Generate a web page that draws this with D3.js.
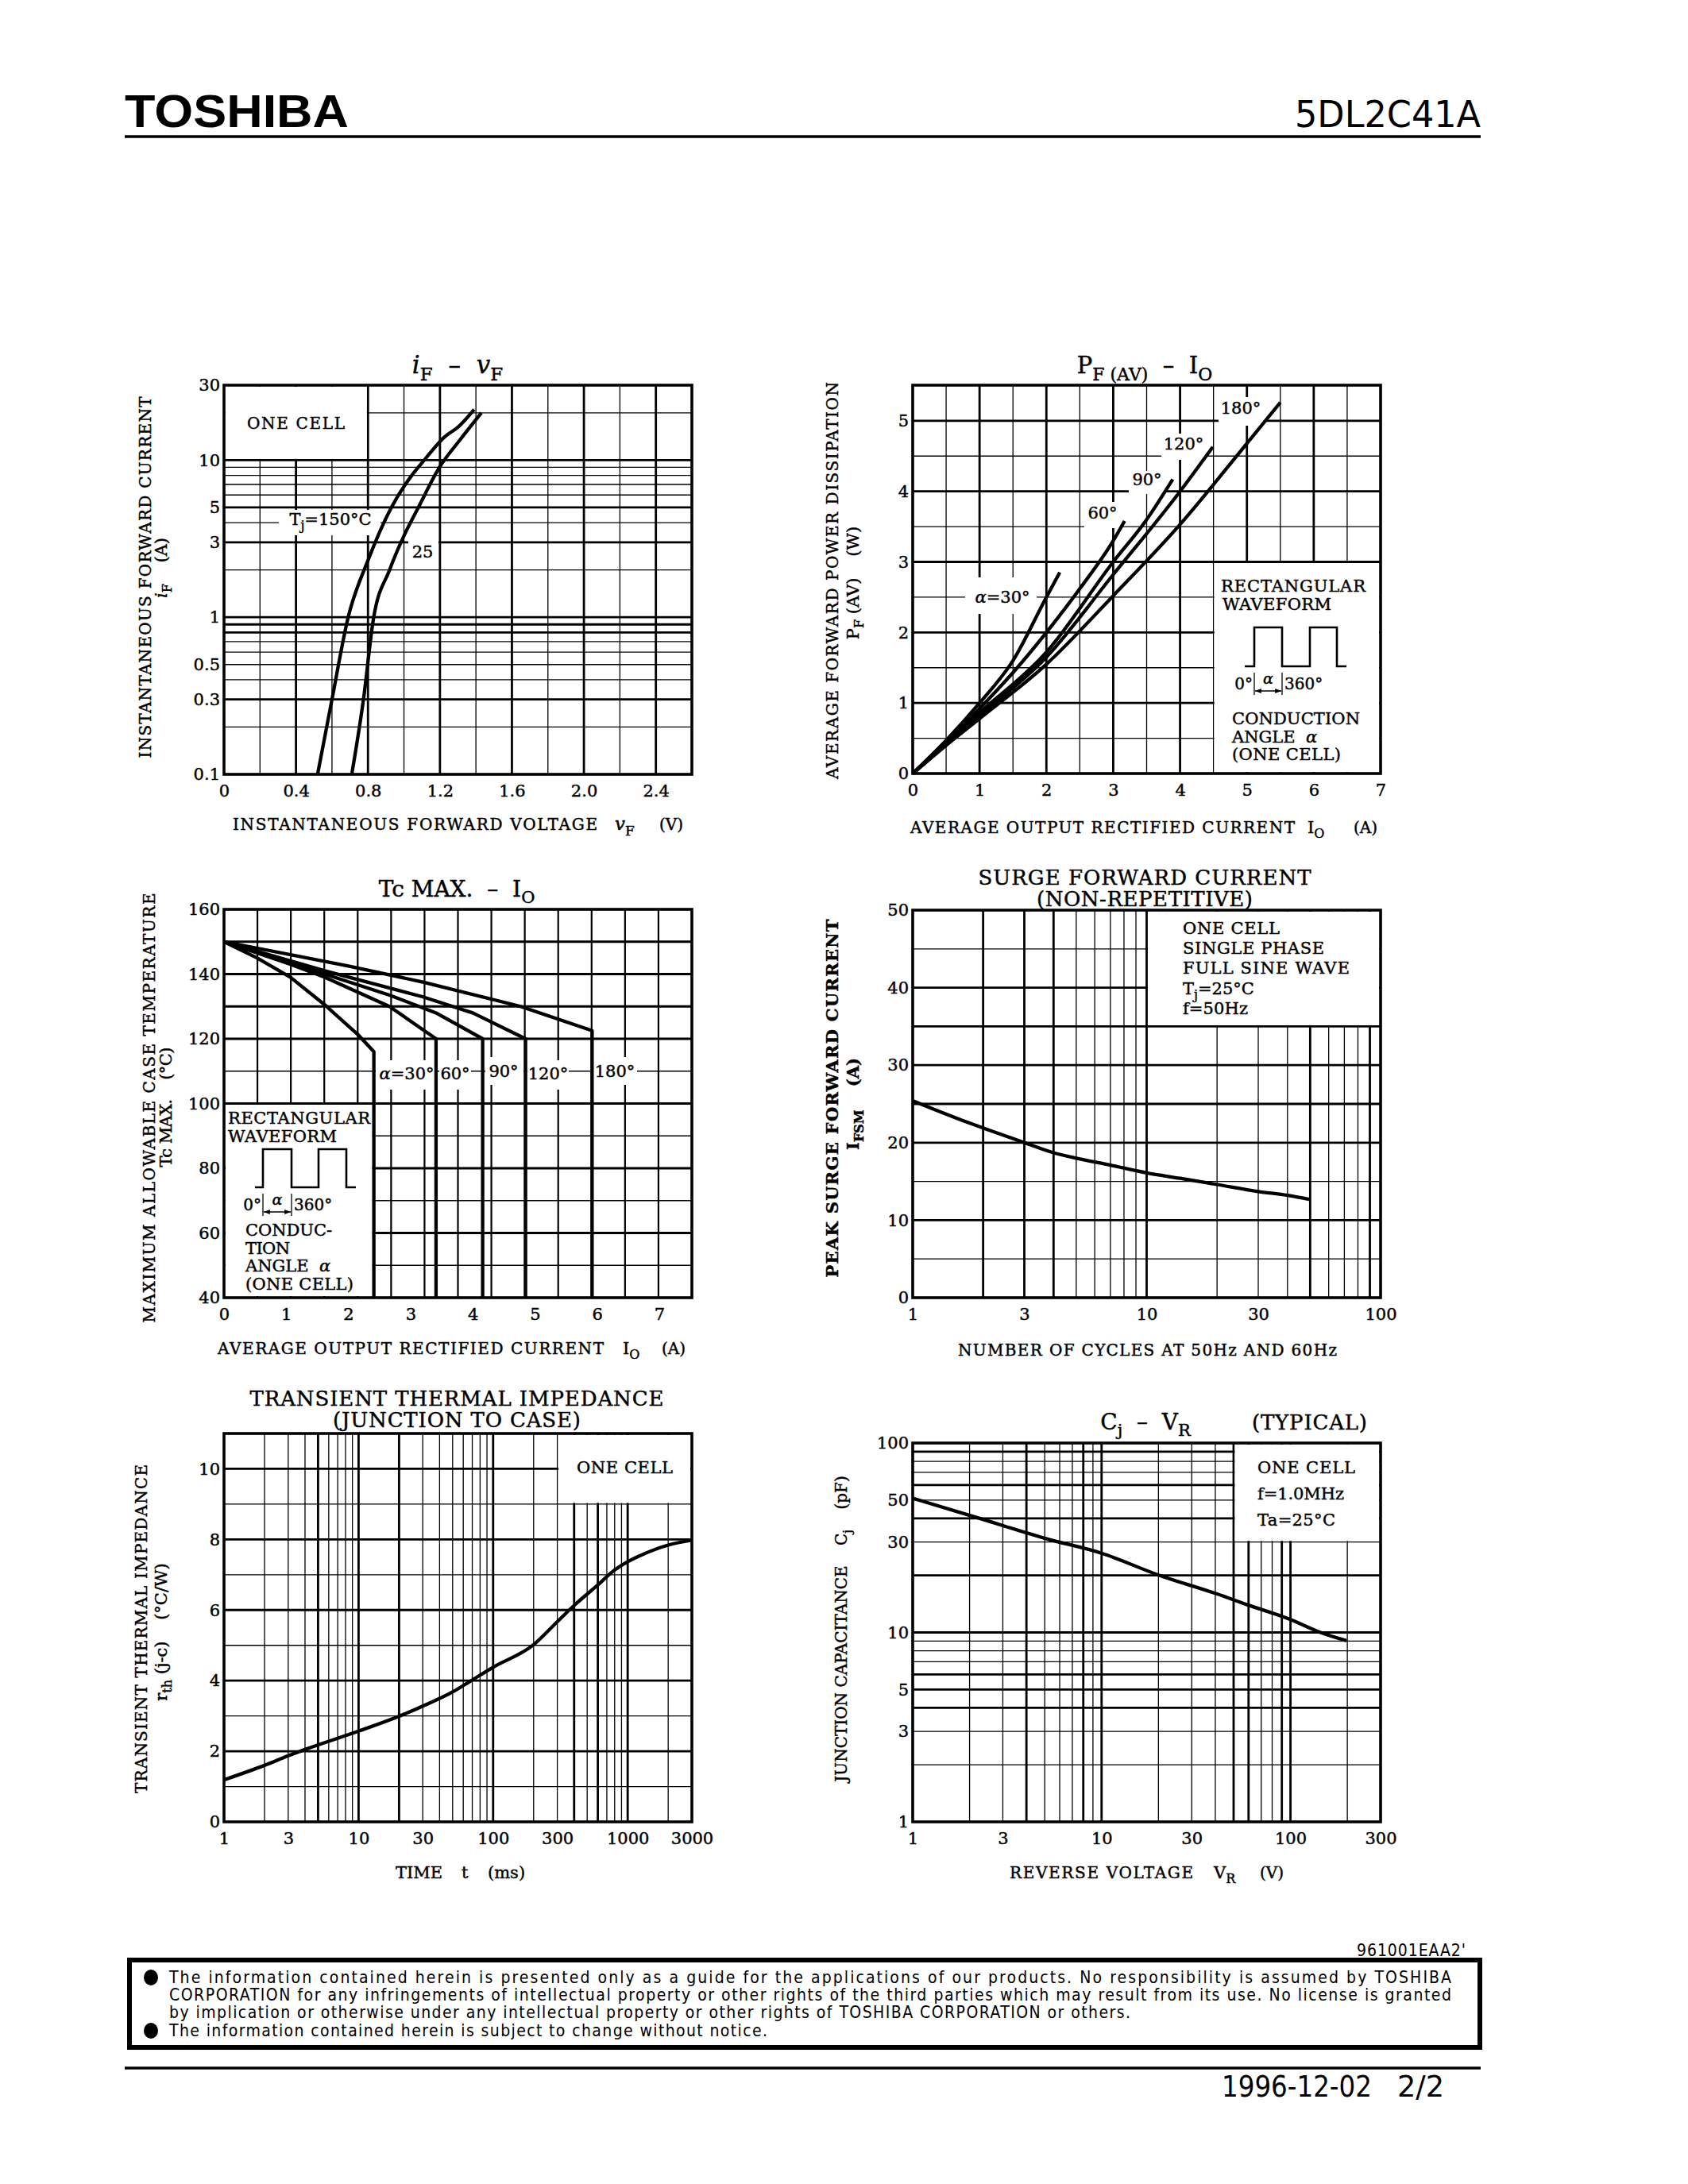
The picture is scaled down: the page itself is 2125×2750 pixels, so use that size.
<!DOCTYPE html>
<html>
<head>
<meta charset="utf-8">
<script src="https://cdn.jsdelivr.net/npm/d3@7"></script>
<style>
  body { margin: 0; background: #fff; }
  text { fill: #000; white-space: pre; }
  .chart text { stroke: #000; stroke-width: 0.45px; }
</style>
</head>
<body>
<svg id="page" width="2125" height="2750"></svg>
<script>
// ---- iF - vF ----
var vF150 = [0.52, 0.60, 0.69, 0.80, 0.93, 1.04, 1.10, 1.23, 1.30, 1.39]
var iF150 = [0.1, 0.3, 1.0, 2.3, 5, 7.9, 9.6, 14.2, 16.2, 21]
var vF25 = [0.71, 0.775, 0.83, 0.92, 1.0, 1.08, 1.20, 1.31, 1.43]
var iF25 = [0.1, 0.3, 0.97, 2.0, 3.3, 5, 9.1, 13.4, 20]
var vfTicks = [0, 0.4, 0.8, 1.2, 1.6, 2.0, 2.4]
var ifTicks = [0.1, 0.3, 0.5, 1, 3, 5, 10, 30]

// ---- PF(AV) - IO ----
var pfIo30 = [0, 0.5, 1, 1.5, 2, 2.2]
var pf30 = [0, 0.47, 1.0, 1.6, 2.5, 2.85]
var pfIo60 = [0, 0.5, 1, 1.5, 2, 2.5, 3, 3.17]
var pf60 = [0, 0.45, 0.92, 1.43, 2.0, 2.62, 3.3, 3.58]
var pfIo90 = [0, 0.5, 1, 2, 3, 3.5, 3.89]
var pf90 = [0, 0.43, 0.86, 1.72, 3.0, 3.6, 4.17]
var pfIo120 = [0, 1, 2, 3, 4, 4.49]
var pf120 = [0, 0.82, 1.65, 2.82, 4.0, 4.63]
var pfIo180 = [0, 0.5, 1, 2, 3, 4, 5, 5.5]
var pf180 = [0, 0.4, 0.78, 1.55, 2.52, 3.53, 4.68, 5.26]
var pfXTicks = [0, 1, 2, 3, 4, 5, 6, 7]
var pfYTicks = [0, 1, 2, 3, 4, 5]

// ---- Tc MAX - IO ----
var tcIo30 = [0, 0.53, 1.07, 1.62, 2.17, 2.41, 2.41]
var tc30 = [150, 145, 139, 130.5, 121, 116, 40]
var tcIo60 = [0, 1.07, 1.62, 2.66, 3.41, 3.41]
var tc60 = [150, 143, 139, 130, 120, 40]
var tcIo90 = [0, 1.62, 2.66, 3.41, 4.16, 4.16]
var tc90 = [150, 140, 133.5, 128, 120, 40]
var tcIo120 = [0, 1.62, 3.19, 4.0, 4.85, 4.85]
var tc120 = [150, 141, 133, 128, 120, 40]
var tcIo180 = [0, 2.0, 3.2, 4.77, 5.92, 5.92]
var tc180 = [150, 142.5, 137.5, 130, 122.5, 40]
var tcXTicks = [0, 1, 2, 3, 4, 5, 6, 7]
var tcYTicks = [40, 60, 80, 100, 120, 140, 160]

// ---- surge forward current ----
var cycles = [1, 1.62, 2, 3, 4, 5, 7, 10, 13.9, 20, 30, 40, 49.5]
var ifsm = [25.4, 22.9, 21.9, 20.0, 18.7, 18.0, 17.1, 16.1, 15.4, 14.6, 13.7, 13.2, 12.7]
var cyXTicks = [1, 3, 10, 30, 100]
var cyYTicks = [0, 10, 20, 30, 40, 50]

// ---- transient thermal impedance ----
var tms = [1, 2, 3, 4, 10, 20, 30, 50, 68, 100, 200, 300, 400, 584, 805, 1000, 1340, 2000, 3000]
var rth = [1.19, 1.60, 1.87, 2.05, 2.57, 2.99, 3.28, 3.68, 3.99, 4.38, 5.02, 5.67, 6.13, 6.67, 7.14, 7.37, 7.60, 7.84, 7.98]
var tXTicks = [1, 3, 10, 30, 100, 300, 1000, 3000]
var tYTicks = [0, 2, 4, 6, 8, 10]

// ---- Cj - VR ----
var vr = [1, 2.28, 5.12, 10, 20, 40.6, 59, 100, 144, 198]
var cj = [51.1, 39.9, 31.2, 26.2, 20.1, 16.0, 14.0, 11.7, 10, 9.05]
var vrXTicks = [1, 3, 10, 30, 100, 300]
var cjYTicks = [1, 3, 5, 10, 30, 50, 100]

var serif = '"DejaVu Serif", "Liberation Serif", serif'
var sans = '"DejaVu Sans Condensed", "Liberation Sans Narrow", "Noto Sans", sans-serif'

var svg = d3.select('#page')
svg.append('rect').attr('width', 2125).attr('height', 2750).attr('fill', '#fff')

var defs = svg.append('defs')
defs.append('marker').attr('id', 'ah').attr('viewBox', '0 0 10 10').attr('refX', 10).attr('refY', 5)
  .attr('markerWidth', 6).attr('markerHeight', 6).attr('orient', 'auto-start-reverse')
  .append('path').attr('d', 'M0,1 L10,5 L0,9 Z').attr('fill', '#000')

// text with optional italic / subscript parts
function txt(g, x, y, parts, o) {
  o = o || {}
  var size = o.size || 20
  var t = g.append('text').attr('x', x).attr('y', y)
    .attr('text-anchor', o.anchor || 'start')
    .style('font-family', o.font || serif)
    .style('font-size', size + 'px')
  if (o.weight) t.style('font-weight', o.weight)
  if (o.rot) t.attr('transform', 'rotate(-90,' + x + ',' + y + ')')
  if (o.len) t.attr('textLength', o.len).attr('lengthAdjust', o.adjust || 'spacing')
  if (typeof parts === 'string') parts = [parts]
  var shift = 0
  parts.forEach(function(p) {
    if (typeof p === 'string') p = {t: p}
    var ts = t.append('tspan').text(p.t)
    var want = p.sub ? Math.round(size * 0.3) : 0
    if (want !== shift) { ts.attr('dy', want - shift); shift = want }
    if (p.sub) ts.style('font-size', Math.round(size * 0.75) + 'px')
    if (p.it) ts.style('font-style', 'italic')
  })
  return t
}

function gridV(g, sx, sy, vals, bold, w1, w2) {
  var yr = sy.range()
  g.append('g').selectAll('line').data(vals).enter().append('line')
    .attr('x1', d => sx(d)).attr('x2', d => sx(d))
    .attr('y1', yr[0]).attr('y2', yr[1])
    .attr('stroke', '#000')
    .attr('stroke-width', d => bold.indexOf(d) >= 0 ? (w2 || 2.8) : (w1 || 1.3))
}
function gridH(g, sx, sy, vals, bold, w1, w2) {
  var xr = sx.range()
  g.append('g').selectAll('line').data(vals).enter().append('line')
    .attr('y1', d => sy(d)).attr('y2', d => sy(d))
    .attr('x1', xr[0]).attr('x2', xr[1])
    .attr('stroke', '#000')
    .attr('stroke-width', d => bold.indexOf(d) >= 0 ? (w2 || 2.8) : (w1 || 1.3))
}
function box(g, x, y, w, h) {
  g.append('rect').attr('x', x).attr('y', y).attr('width', w).attr('height', h).attr('fill', '#fff')
}
function frame(g, sx, sy) {
  var xr = sx.range(), yr = sy.range()
  g.append('rect').attr('x', xr[0]).attr('y', yr[1])
    .attr('width', xr[1] - xr[0]).attr('height', yr[0] - yr[1])
    .attr('fill', 'none').attr('stroke', '#000').attr('stroke-width', 3.6)
}
function curve(g, sx, sy, xs, ys, c) {
  var pts = xs.map((v, i) => [v, ys[i]])
  g.append('path').datum(pts)
    .attr('d', d3.line().x(d => sx(d[0])).y(d => sy(d[1])).curve(c || d3.curveMonotoneX))
    .attr('fill', 'none').attr('stroke', '#000').attr('stroke-width', 4.3)
    .attr('stroke-linejoin', 'round')
}
function axes(g, sx, sy, xt, yt, xf, yf) {
  var ax = g.append('g').attr('transform', 'translate(0,' + sy.range()[0] + ')')
    .call(d3.axisBottom(sx).tickValues(xt).tickSize(0).tickPadding(13).tickFormat(xf || (d => d)))
  var ay = g.append('g').attr('transform', 'translate(' + sx.range()[0] + ',0)')
    .call(d3.axisLeft(sy).tickValues(yt).tickSize(0).tickPadding(5).tickFormat(yf || (d => d)))
  ;[ax, ay].forEach(a => {
    a.select('.domain').remove()
    a.attr('font-family', null).attr('font-size', null)
    a.selectAll('text').style('font-family', serif).style('font-size', '21px').attr('fill', '#000')
  })
}
function wave(g, xs, lo, hi) {
  g.append('path')
    .attr('d', 'M' + xs[0] + ',' + lo + 'H' + xs[1] + 'V' + hi + 'H' + xs[2] + 'V' + lo +
      'H' + xs[3] + 'V' + hi + 'H' + xs[4] + 'V' + lo + 'H' + xs[5])
    .attr('fill', 'none').attr('stroke', '#000').attr('stroke-width', 2.6)
  var b = lo + 8
  g.append('line').attr('x1', xs[1]).attr('x2', xs[1]).attr('y1', b).attr('y2', b + 28).attr('stroke', '#000').attr('stroke-width', 1.3)
  g.append('line').attr('x1', xs[2]).attr('x2', xs[2]).attr('y1', b).attr('y2', b + 28).attr('stroke', '#000').attr('stroke-width', 1.3)
  g.append('line').attr('x1', xs[1] + 1).attr('x2', xs[2] - 1).attr('y1', b + 23).attr('y2', b + 23)
    .attr('stroke', '#000').attr('stroke-width', 1.3)
    .attr('marker-start', 'url(#ah)').attr('marker-end', 'url(#ah)')
  txt(g, xs[1] - 2, b + 21, '0°', {anchor: 'end', size: 20})
  txt(g, (xs[1] + xs[2]) / 2, b + 14, [{t: 'α', it: 1}], {anchor: 'middle', size: 19})
  txt(g, xs[2] + 3, b + 21, '360°', {size: 20})
}

// ---------------- header ----------------
txt(svg, 157, 160, 'TOSHIBA', {font: '"Liberation Sans", Arial, sans-serif', weight: 900, size: 58, len: 282, adjust: 'spacingAndGlyphs'})
txt(svg, 1864, 160, '5DL2C41A', {font: sans, size: 46, anchor: 'end', len: 234, adjust: 'spacingAndGlyphs'})
svg.append('line').attr('x1', 157).attr('x2', 1864).attr('y1', 172).attr('y2', 172).attr('stroke', '#000').attr('stroke-width', 3.5)

// ---------------- chart 1: iF - vF ----------------
var g1 = svg.append('g').attr('class', 'chart')
var x1 = d3.scaleLinear().domain([0, 2.6]).range([282, 871])
var y1 = d3.scaleLog().domain([0.1, 30]).range([975, 485])
gridV(g1, x1, y1, [0.2, 0.4, 0.6, 0.8, 1.0, 1.2, 1.4, 1.6, 1.8, 2.0, 2.2, 2.4], [0.4, 0.8, 1.2, 1.6, 2.0, 2.4])
gridH(g1, x1, y1, [0.2, 0.3, 0.4, 0.5, 0.6, 0.7, 0.8, 0.9, 1, 2, 3, 4, 5, 6, 7, 8, 9, 10, 20], [0.3, 0.8, 0.9, 1, 3, 5, 10])
box(g1, 284, 487, x1(0.8) - 285.5, y1(10) - 488.5)
box(g1, 351, 642, 128, 32)
box(g1, 514, 680, 38, 30)
curve(g1, x1, y1, vF150, iF150)
curve(g1, x1, y1, vF25, iF25)
frame(g1, x1, y1)
axes(g1, x1, y1, vfTicks, ifTicks, d => d === 0 ? '0' : d.toFixed(1))
txt(g1, 311, 540, 'ONE CELL', {len: 123})
txt(g1, 416, 661, ['T', {t: 'j', sub: 1}, '=150°C'], {anchor: 'middle', size: 21})
txt(g1, 532, 702, '25', {anchor: 'middle', size: 21})
txt(g1, 576, 470, [{t: 'i', it: 1}, {t: 'F', sub: 1}, '  –  ', {t: 'v', it: 1}, {t: 'F', sub: 1}], {anchor: 'middle', size: 31})
txt(g1, 190, 727, 'INSTANTANEOUS FORWARD CURRENT', {rot: 1, anchor: 'middle', len: 455})
txt(g1, 210, 715, [{t: 'i', it: 1}, {t: 'F', sub: 1}, '    (A)'], {rot: 1, anchor: 'middle', size: 21})
txt(g1, 293, 1045, 'INSTANTANEOUS FORWARD VOLTAGE', {len: 459})
txt(g1, 774, 1045, [{t: 'v', it: 1}, {t: 'F', sub: 1}], {size: 23})
txt(g1, 830, 1045, '(V)')

// ---------------- chart 2: PF(AV) - IO ----------------
var g2 = svg.append('g').attr('class', 'chart')
var x2 = d3.scaleLinear().domain([0, 7]).range([1149, 1738])
var y2 = d3.scaleLinear().domain([0, 5.505]).range([974, 485])
gridV(g2, x2, y2, [0.5, 1, 1.5, 2, 2.5, 3, 3.5, 4, 4.5, 5, 5.5, 6, 6.5], [1, 2, 3, 4, 5, 6])
gridH(g2, x2, y2, [0.5, 1, 1.5, 2, 2.5, 3, 3.5, 4, 4.5, 5], [1, 2, 3, 4, 5])
box(g2, x2(4.5) + 1, y2(3) + 1.5, 1738 - x2(4.5) - 3, 974 - y2(3) - 3.5)
box(g2, 1215, 727, 90, 46)
box(g2, 1365, 632, 46, 33)
box(g2, 1421, 593, 46, 29)
box(g2, 1462, 546, 56, 33)
box(g2, 1534, 500, 60, 36)
curve(g2, x2, y2, pfIo30, pf30)
curve(g2, x2, y2, pfIo60, pf60)
curve(g2, x2, y2, pfIo90, pf90)
curve(g2, x2, y2, pfIo120, pf120)
curve(g2, x2, y2, pfIo180, pf180)
frame(g2, x2, y2)
axes(g2, x2, y2, pfXTicks, pfYTicks)
txt(g2, 1262, 759, [{t: 'α', it: 1}, '=30°'], {anchor: 'middle', size: 21})
txt(g2, 1388, 653, '60°', {anchor: 'middle', size: 21})
txt(g2, 1444, 611, '90°', {anchor: 'middle', size: 21})
txt(g2, 1490, 566, '120°', {anchor: 'middle', size: 21})
txt(g2, 1562, 521, '180°', {anchor: 'middle', size: 21})
txt(g2, 1537, 745, 'RECTANGULAR', {len: 182, size: 21})
txt(g2, 1539, 768, 'WAVEFORM', {len: 137, size: 21})
wave(g2, [1567, 1579, 1614, 1649, 1683, 1695], 839, 790)
txt(g2, 1551, 912, 'CONDUCTION', {len: 161, size: 21})
txt(g2, 1551, 935, ['ANGLE  ', {t: 'α', it: 1}], {size: 21})
txt(g2, 1551, 957, '(ONE CELL)', {len: 137, size: 21})
txt(g2, 1441, 470, ['P', {t: 'F (AV)', sub: 1}, '  –  I', {t: 'O', sub: 1}], {anchor: 'middle', size: 29})
txt(g2, 1055, 731, 'AVERAGE FORWARD POWER DISSIPATION', {rot: 1, anchor: 'middle', len: 500})
txt(g2, 1081, 734, ['P', {t: 'F', sub: 1}, ' (AV)    (W)'], {rot: 1, anchor: 'middle', size: 21})
txt(g2, 1146, 1049, 'AVERAGE OUTPUT RECTIFIED CURRENT', {len: 484})
txt(g2, 1646, 1049, ['I', {t: 'O', sub: 1}], {size: 21})
txt(g2, 1704, 1049, '(A)')

// ---------------- chart 3: Tc MAX - IO ----------------
var g3 = svg.append('g').attr('class', 'chart')
var x3 = d3.scaleLinear().domain([0, 7.525]).range([282, 871])
var y3 = d3.scaleLinear().domain([40, 160]).range([1634, 1145])
var tcGrid = d3.range(1, 14).map(i => i * 7.525 / 14)
gridV(g3, x3, y3, tcGrid, [], 2.2)
gridH(g3, x3, y3, [50, 60, 70, 80, 90, 100, 110, 120, 130, 140, 150], [60, 80, 100, 120, 130, 140, 150])
box(g3, 284, y3(100) + 1.5, x3(2.41) - 286, 1634 - y3(100) - 3.5)
box(g3, 473, 1335, 75, 37)
box(g3, 553, 1335, 40, 37)
box(g3, 611, 1331, 48, 35)
box(g3, 664, 1335, 52, 37)
box(g3, 747, 1331, 55, 35)
curve(g3, x3, y3, tcIo30, tc30, d3.curveLinear)
curve(g3, x3, y3, tcIo60, tc60, d3.curveLinear)
curve(g3, x3, y3, tcIo90, tc90, d3.curveLinear)
curve(g3, x3, y3, tcIo120, tc120, d3.curveLinear)
curve(g3, x3, y3, tcIo180, tc180, d3.curveLinear)
frame(g3, x3, y3)
axes(g3, x3, y3, tcXTicks, tcYTicks)
txt(g3, 512, 1359, [{t: 'α', it: 1}, '=30°'], {anchor: 'middle', size: 21})
txt(g3, 573, 1359, '60°', {anchor: 'middle', size: 21})
txt(g3, 634, 1356, '90°', {anchor: 'middle', size: 21})
txt(g3, 690, 1359, '120°', {anchor: 'middle', size: 21})
txt(g3, 774, 1356, '180°', {anchor: 'middle', size: 21})
txt(g3, 287, 1415, 'RECTANGULAR', {len: 179, size: 21})
txt(g3, 287, 1438, 'WAVEFORM', {len: 137, size: 21})
wave(g3, [321, 331, 367, 401, 436, 448], 1495, 1447)
txt(g3, 309, 1556, 'CONDUC-', {len: 109, size: 21})
txt(g3, 309, 1579, 'TION', {len: 56, size: 21})
txt(g3, 309, 1601, ['ANGLE  ', {t: 'α', it: 1}], {size: 21})
txt(g3, 309, 1624, '(ONE CELL)', {len: 136, size: 21})
txt(g3, 575, 1129, ['Tc MAX.  –  I', {t: 'O', sub: 1}], {anchor: 'middle', size: 28})
txt(g3, 195, 1395, 'MAXIMUM ALLOWABLE CASE TEMPERATURE', {rot: 1, anchor: 'middle', len: 541})
txt(g3, 216, 1394, 'Tc MAX.    (°C)', {rot: 1, anchor: 'middle', len: 151, size: 21})
txt(g3, 274, 1705, 'AVERAGE OUTPUT RECTIFIED CURRENT', {len: 486})
txt(g3, 784, 1705, ['I', {t: 'O', sub: 1}], {size: 21})
txt(g3, 833, 1705, '(A)')

// ---------------- chart 4: surge forward current ----------------
var g4 = svg.append('g').attr('class', 'chart')
var x4 = d3.scaleLog().domain([1, 100]).range([1149, 1738])
var y4 = d3.scaleLinear().domain([0, 50]).range([1634, 1146])
gridV(g4, x4, y4, [2, 3, 4, 5, 6, 7, 8, 9, 10, 20, 30, 40, 50, 60, 70, 80, 90], [2, 3, 4, 10, 50, 90])
gridH(g4, x4, y4, [5, 10, 15, 20, 25, 30, 35, 40, 45], [10, 20, 25, 30, 35, 40])
box(g4, x4(10) + 1.5, 1148, 1738 - x4(10) - 3.5, y4(35) - 1149.5)
curve(g4, x4, y4, cycles, ifsm)
frame(g4, x4, y4)
axes(g4, x4, y4, cyXTicks, cyYTicks)
txt(g4, 1489, 1176, 'ONE CELL', {len: 122, size: 21})
txt(g4, 1489, 1201, 'SINGLE PHASE', {len: 178, size: 21})
txt(g4, 1489, 1226, 'FULL SINE WAVE', {len: 210, size: 21})
txt(g4, 1489, 1252, ['T', {t: 'j', sub: 1}, '=25°C'], {size: 21})
txt(g4, 1489, 1277, 'f=50Hz', {len: 82, size: 21})
txt(g4, 1441, 1114, 'SURGE FORWARD CURRENT', {anchor: 'middle', size: 26, len: 419})
txt(g4, 1441, 1141, '(NON-REPETITIVE)', {anchor: 'middle', size: 26, len: 272})
txt(g4, 1055, 1383, 'PEAK SURGE FORWARD CURRENT', {rot: 1, anchor: 'middle', len: 451, weight: 'bold', size: 21})
txt(g4, 1081, 1390, ['I', {t: 'FSM', sub: 1}, '    (A)'], {rot: 1, anchor: 'middle', weight: 'bold', size: 21})
txt(g4, 1206, 1707, 'NUMBER OF CYCLES AT 50Hz AND 60Hz', {len: 477})

// ---------------- chart 5: transient thermal impedance ----------------
var g5 = svg.append('g').attr('class', 'chart')
var x5 = d3.scaleLog().domain([1, 3000]).range([282, 871])
var y5 = d3.scaleLinear().domain([0, 11]).range([2294, 1805])
gridV(g5, x5, y5, [2, 3, 4, 5, 6, 7, 8, 9, 10, 20, 30, 40, 50, 60, 70, 80, 90, 100, 200, 300, 400, 500, 600, 700, 800, 900, 1000, 2000],
  [5, 10, 20, 100, 400, 600, 1000])
gridH(g5, x5, y5, [1, 2, 3, 4, 5, 6, 7, 8, 9, 10], [2, 4, 6, 8, 10])
box(g5, x5(300) + 1.5, 1807, 871 - x5(300) - 3.5, y5(9) - 1808.5)
curve(g5, x5, y5, tms, rth)
frame(g5, x5, y5)
axes(g5, x5, y5, tXTicks, tYTicks)
txt(g5, 726, 1855, 'ONE CELL', {len: 121, size: 21})
txt(g5, 575, 1770, 'TRANSIENT THERMAL IMPEDANCE', {anchor: 'middle', size: 26, len: 521})
txt(g5, 575, 1797, '(JUNCTION TO CASE)', {anchor: 'middle', size: 26, len: 312})
txt(g5, 185, 2051, 'TRANSIENT THERMAL IMPEDANCE', {rot: 1, anchor: 'middle', len: 414})
txt(g5, 210, 2055, ['r', {t: 'th', sub: 1}, ' (j-c)    (°C/W)'], {rot: 1, anchor: 'middle', size: 21})
txt(g5, 498, 2365, 'TIME', {size: 21})
txt(g5, 581, 2365, 't', {size: 21})
txt(g5, 614, 2365, '(ms)', {size: 21})

// ---------------- chart 6: Cj - VR ----------------
var g6 = svg.append('g').attr('class', 'chart')
var x6 = d3.scaleLog().domain([1, 300]).range([1149, 1738])
var y6 = d3.scaleLog().domain([1, 100]).range([2294, 1817])
gridV(g6, x6, y6, [2, 3, 4, 5, 6, 7, 8, 9, 10, 20, 30, 40, 50, 60, 70, 80, 90, 100, 200], [4, 8, 10, 50, 60, 90, 100])
gridH(g6, x6, y6, [2, 3, 4, 5, 6, 7, 8, 9, 10, 20, 30, 40, 50, 60, 70, 80, 90], [4, 5, 6, 10, 20, 40, 60, 90])
box(g6, x6(50) + 1.5, 1819, 1738 - x6(50) - 3.5, y6(30) - 1820.5)
curve(g6, x6, y6, vr, cj)
frame(g6, x6, y6)
axes(g6, x6, y6, vrXTicks, cjYTicks)
txt(g6, 1583, 1855, 'ONE CELL', {len: 123, size: 21})
txt(g6, 1583, 1888, 'f=1.0MHz', {len: 109, size: 21})
txt(g6, 1583, 1921, 'Ta=25°C', {len: 98, size: 21})
txt(g6, 1442, 1800, ['C', {t: 'j', sub: 1}, '  –  V', {t: 'R', sub: 1}], {anchor: 'middle', size: 28})
txt(g6, 1576, 1800, '(TYPICAL)', {size: 26, len: 145})
txt(g6, 1066, 2051, ['JUNCTION CAPACITANCE    C', {t: 'j', sub: 1}, '    (pF)'], {rot: 1, anchor: 'middle'})
txt(g6, 1271, 2365, 'REVERSE VOLTAGE', {len: 231})
txt(g6, 1528, 2365, ['V', {t: 'R', sub: 1}], {size: 21})
txt(g6, 1586, 2365, '(V)')

// ---------------- footer ----------------
var f = svg.append('g')
txt(f, 1845, 2463, "961001EAA2'", {font: sans, size: 21, anchor: 'end', len: 137})
f.append('rect').attr('x', 163).attr('y', 2468).attr('width', 1700).attr('height', 110)
  .attr('fill', 'none').attr('stroke', '#000').attr('stroke-width', 6)
f.append('ellipse').attr('cx', 190).attr('cy', 2490).attr('rx', 9).attr('ry', 10)
f.append('ellipse').attr('cx', 190).attr('cy', 2557).attr('rx', 9).attr('ry', 10)
txt(f, 213, 2497, 'The information contained herein is presented only as a guide for the applications of our products. No responsibility is assumed by TOSHIBA', {font: sans, size: 21, len: 1614})
txt(f, 213, 2519, 'CORPORATION for any infringements of intellectual property or other rights of the third parties which may result from its use. No license is granted', {font: sans, size: 21, len: 1614})
txt(f, 213, 2541, 'by implication or otherwise under any intellectual property or other rights of TOSHIBA CORPORATION or others.', {font: sans, size: 21, len: 1210})
txt(f, 213, 2564, 'The information contained herein is subject to change without notice.', {font: sans, size: 21, len: 753})
f.append('line').attr('x1', 157).attr('x2', 1864).attr('y1', 2604).attr('y2', 2604).attr('stroke', '#000').attr('stroke-width', 3.5)
txt(f, 1538, 2640, '1996-12-02', {font: sans, size: 38, len: 189, adjust: 'spacingAndGlyphs'})
txt(f, 1759, 2640, '2/2', {font: sans, size: 38, len: 59, adjust: 'spacingAndGlyphs'})
</script>
</body>
</html>
